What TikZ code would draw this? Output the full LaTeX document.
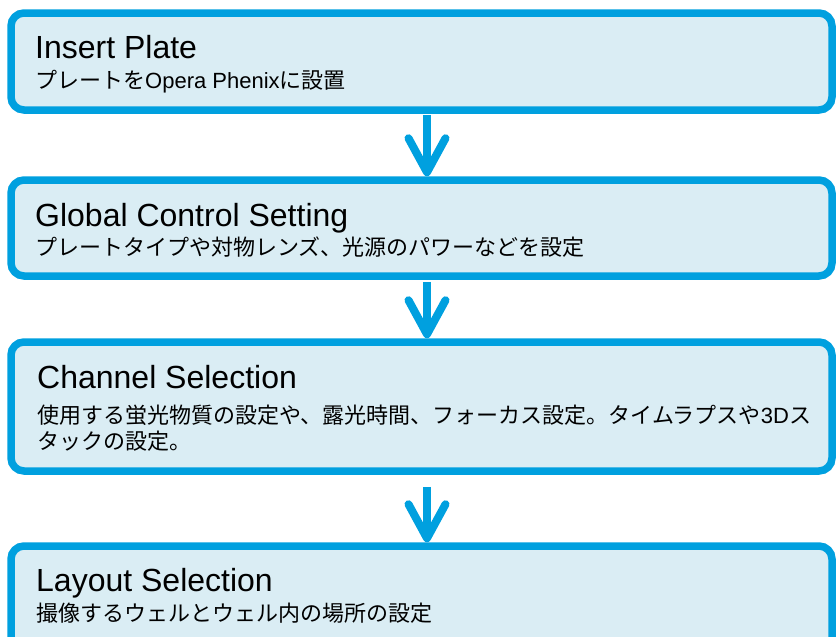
\documentclass[tikz,border=0pt]{standalone}
\usepackage{fontspec}
\setmainfont{Liberation Sans}
\newfontfamily\jp{Noto Sans CJK JP}
\usetikzlibrary{arrows.meta}
\definecolor{boxline}{RGB}{0,160,223}
\definecolor{boxfill}{RGB}{218,237,244}
\tikzset{
  x=1pt,y=-1pt,
  stepbox/.style={draw=boxline,fill=boxfill,line width=7.5pt,rounded corners=13pt,
    rectangle,inner sep=0pt,minimum width=821pt},
  ttl/.style={anchor=base west,inner sep=0pt,font=\fontsize{32}{38}\selectfont},
  sub/.style={anchor=base west,inner sep=0pt,font=\fontsize{22}{26}\selectfont},
  flow/.style={draw=boxline,line width=8pt,
    -{Straight Barb[length=34pt,width=37pt,round]}},
}
\begin{document}
\begin{tikzpicture}
\useasboundingbox (0,0) rectangle (836,637);
\begin{scope}
\clip (0,0) rectangle (836,637);
\node[stepbox,minimum height=97pt] (b1) at (421.5,61.5) {};
\node[stepbox,minimum height=96pt] (b2) at (421.5,228) {};
\node[stepbox,minimum height=129pt] (b3) at (421.5,406.5) {};
\node[stepbox,minimum height=130pt] (b4) at (421.5,611) {};
\end{scope}
\node[ttl] (t1) at (35,58) {Insert Plate};
\node[sub] (s1) at (35,88) {{\jp プレートを}Opera Phenix{\jp に設置}};
\node[ttl] (t2) at (35,226) {Global Control Setting};
\node[sub] (s2) at (35,255) {\jp プレートタイプや対物レンズ、光源のパワーなどを設定};
\node[ttl] (t3) at (37,388) {Channel Selection};
\node[sub] (s3) at (37,423) {{\jp 使用する蛍光物質の設定や、露光時間、フォーカス設定。タイムラプスや}3D{\jp ス}};
\node[sub] (s3b) at (37,449) {\jp タックの設定。};
\node[ttl] (t4) at (36,591) {Layout Selection};
\node[sub] (s4) at (36,621) {\jp 撮像するウェルとウェル内の場所の設定};
\draw[flow] ([yshift=-1pt]b1.south -| 427,0) -- (b2.north -| 427,0);
\draw[flow] ([yshift=-2pt]b2.south -| 427,0) -- (b3.north -| 427,0);
\draw[flow] ([yshift=-12pt]b3.south -| 427,0) -- (b4.north -| 427,0);
\end{tikzpicture}
\end{document}
